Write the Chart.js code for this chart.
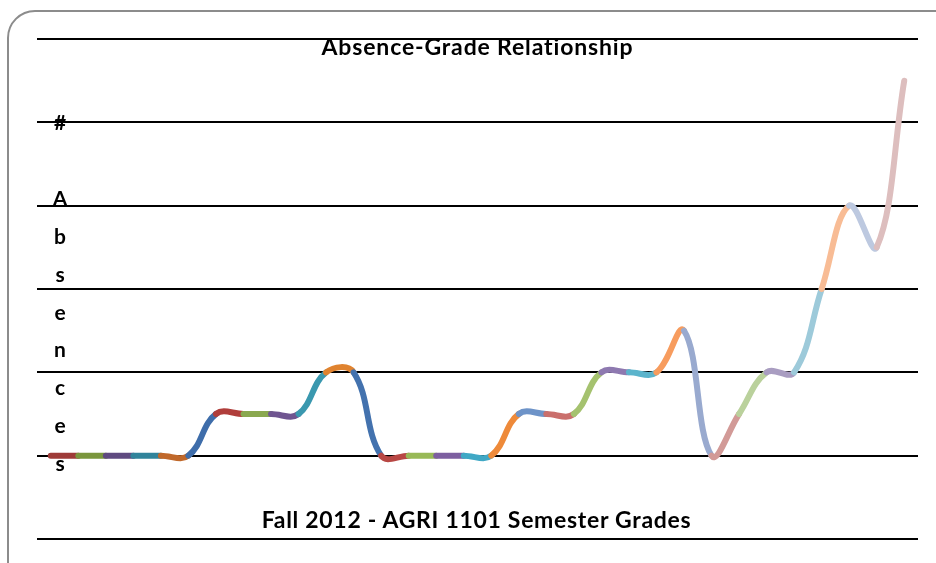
<!DOCTYPE html>
<html>
<head>
<meta charset="utf-8">
<script src="https://cdn.jsdelivr.net/npm/chart.js@4/dist/chart.umd.min.js"></script>
<style>
  html, body { margin: 0; padding: 0; background: #fff; }
  #wrap { position: relative; width: 936px; height: 563px; overflow: hidden; }
  #card {
    position: absolute; left: 7px; top: 10px; width: 960px; height: 600px;
    border: 2px solid #8c8c8c; border-radius: 28px; box-sizing: border-box;
  }
  canvas { position: absolute; left: 0; top: 0; }
  .txt { position: absolute; font-family: Lato, "Open Sans", sans-serif; font-weight: bold; color: #000; white-space: nowrap; }
  #title { left: 0; width: 955px; top: 32px; text-align: center; font-size: 23px; letter-spacing: 0.85px; }
  #xtitle { left: 0; width: 953px; top: 505px; text-align: center; font-size: 23px; letter-spacing: 0.7px; }
  #ytitle { left: 48px; width: 24px; top: 103px; text-align: center; font-size: 21px; line-height: 37.9px; }
</style>
</head>
<body>
<div id="wrap">
  <div id="card"></div>
  <canvas id="c" width="936" height="563"></canvas>
  <div class="txt" id="title">Absence-Grade Relationship</div>
  <div class="txt" id="xtitle">Fall 2012 - AGRI 1101 Semester Grades</div>
  <div class="txt" id="ytitle">#<br>&nbsp;<br>A<br>b<br>s<br>e<br>n<br>c<br>e<br>s</div>
</div>
<script>
// one entry per student, absences
const labels = Array.from({ length: 32 }, (_, i) => "");
const absences = [
  0, 0, 0, 0, 0, 0, 0.5, 0.5, 0.5, 0.5, 1, 1, 0, 0, 0, 0,
  0, 0.5, 0.5, 0.5, 1, 1, 1, 1.5, 0, 0.5, 1, 1, 2, 3, 2.5, 4.5,
];
const yTicks = [-1, 0, 1, 2, 3, 4, 5];

// Excel "vary colors by point" palette; segment i->i+1 takes colour of point i+1
const pointColors = [
  "#4F81BD",
  "#9E3B38", "#7A963D", "#5F4A80", "#31849B", "#C0682A", "#3E6DAA",
  "#B03E3B", "#8AA84F", "#6F5590", "#3A98AF", "#E0832F", "#4372AE",
  "#B84744", "#98B957", "#7D5FA0", "#40A8C5", "#EE8A3A", "#6D93C8",
  "#CA6F6C", "#A5C26F", "#8E79B0", "#5BB4CC", "#F79C5E", "#99AACF",
  "#D29A97", "#BAD19C", "#A99DC1", "#9DCADA", "#F8BC95", "#BDC9E0",
  "#DDBEBE",
];

new Chart(document.getElementById("c"), {
  type: "line",
  data: {
    labels,
    datasets: [
      {
        data: absences,
        borderWidth: 6,
        borderCapStyle: "round",
        borderJoinStyle: "round",
        tension: 0.4,
        pointRadius: 0,
        clip: false,
        segment: {
          borderColor: (ctx) => pointColors[ctx.p1DataIndex],
        },
      },
    ],
  },
  options: {
    responsive: false,
    animation: false,
    layout: { padding: { left: 37, right: 18, top: 39, bottom: 16 } },
    plugins: { legend: { display: false }, tooltip: { enabled: false } },
    scales: {
      x: {
        offset: true,
        grid: { display: false },
        border: { display: false },
        ticks: { display: false },
      },
      y: {
        min: -1,
        max: 5,
        afterBuildTicks: (s) => { s.ticks = yTicks.map((v) => ({ value: v })); },
        grid: { color: "#000", lineWidth: 2, drawTicks: false },
        border: { display: false },
        ticks: { display: false },
      },
    },
  },
});
</script>
</body>
</html>
